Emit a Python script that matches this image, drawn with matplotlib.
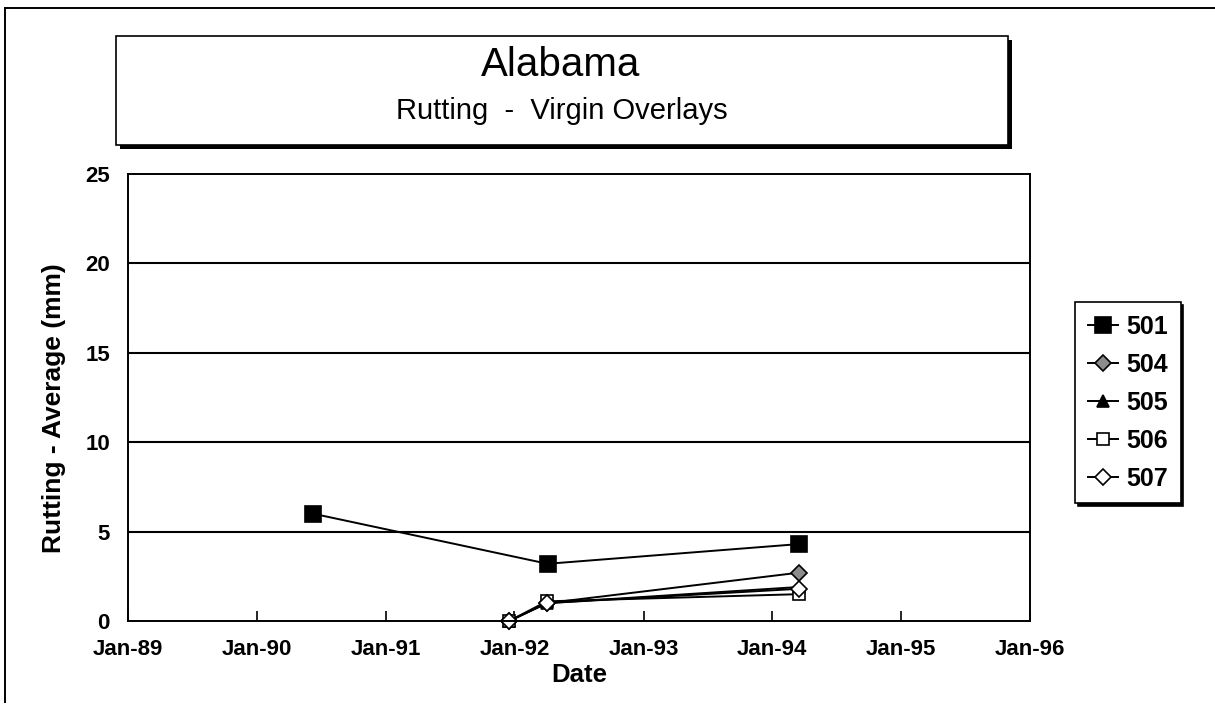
"""Alabama rutting - virgin overlays, average rut depth by survey date."""
import datetime as dt

import matplotlib
matplotlib.use("Agg")
import matplotlib.pyplot as plt
import matplotlib.dates as mdates
from matplotlib.patches import Rectangle
from matplotlib.lines import Line2D

plt.rcParams["font.family"] = ["Liberation Sans", "DejaVu Sans"]

# data
sections = ["501", "504", "505", "506", "507"]
dates_501 = [dt.date(1990, 6, 10), dt.date(1992, 4, 4), dt.date(1994, 3, 16)]
dates_other = [dt.date(1991, 12, 17), dt.date(1992, 4, 2), dt.date(1994, 3, 16)]
rut_501 = [6.0, 3.2, 4.3]
rut_504 = [0.0, 1.0, 2.7]
rut_505 = [0.0, 1.0, 1.9]
rut_506 = [0.0, 1.1, 1.5]
rut_507 = [0.0, 1.0, 1.8]
year_ticks = [dt.date(1989, 1, 1), dt.date(1990, 1, 1), dt.date(1991, 1, 1),
              dt.date(1992, 1, 1), dt.date(1993, 1, 1), dt.date(1994, 1, 1),
              dt.date(1995, 1, 1), dt.date(1996, 1, 1)]
y_ticks = [0, 5, 10, 15, 20, 25]

W, H = 1215, 709
fig = plt.figure(figsize=(W / 100, H / 100), dpi=100)
fig.patch.set_facecolor("white")


def fx(px):
    return px / W


def fy(py):
    return 1 - py / H


# outer page frame (left + top visible)
fig.add_artist(Line2D([fx(5), fx(5)], [fy(8), fy(702)], color="black", lw=1.4))
fig.add_artist(Line2D([fx(5), fx(1215)], [fy(8), fy(8)], color="black", lw=1.4))

# title box with shadow
bx0, by0, bx1, by1 = 116, 36, 1008, 145
fig.add_artist(Rectangle((fx(bx0 + 4), fy(by1 + 4)), fx(bx1 - bx0), (by1 - by0) / H,
                         facecolor="black", edgecolor="none", zorder=1))
fig.add_artist(Rectangle((fx(bx0), fy(by1)), fx(bx1 - bx0), (by1 - by0) / H,
                         facecolor="white", edgecolor="black", lw=1.2, zorder=2))
fig.text(fx(561), fy(65), "Alabama", ha="center", va="center", fontsize=29, zorder=3)
fig.text(fx(562), fy(111), "Rutting  -  Virgin Overlays", ha="center", va="center",
         fontsize=21, zorder=3)

ax = fig.add_axes([fx(128), fy(621), fx(1030 - 128), (621 - 174) / H])

styles = {
    "501": dict(marker="s", ms=12, mfc="black"),
    "504": dict(marker="D", ms=8, mfc="0.55"),
    "505": dict(marker="^", ms=9, mfc="black"),
    "506": dict(marker="s", ms=9, mfc="white"),
    "507": dict(marker="D", ms=8, mfc="white"),
}
series = [(dates_501, rut_501), (dates_other, rut_504), (dates_other, rut_505),
          (dates_other, rut_506), (dates_other, rut_507)]
for name, (xd, yd) in zip(sections, series):
    ax.plot(xd, yd, color="black", lw=1.4, mec="black", mew=1.2,
            label=name, clip_on=False, **styles[name])

ax.set_xlim(year_ticks[0], year_ticks[-1])
ax.set_ylim(0, 25)
ax.set_xticks(year_ticks)
ax.xaxis.set_major_formatter(mdates.DateFormatter("%b-%y"))
ax.set_yticks(y_ticks)
for v in y_ticks[1:-1]:
    ax.axhline(v, color="black", lw=1.5, zorder=0)

ax.tick_params(axis="x", direction="in", length=7, width=1.2, pad=13, labelsize=16)
ax.tick_params(axis="y", length=0, pad=13, labelsize=16)
for lab in ax.get_xticklabels() + ax.get_yticklabels():
    lab.set_fontweight("bold")
for sp in ax.spines.values():
    sp.set_linewidth(1.4)

ax.set_xlabel("Date", fontsize=18.5, fontweight="bold", labelpad=2)
ax.set_ylabel("Rutting - Average (mm)", fontsize=19, fontweight="bold", labelpad=14)
ax.yaxis.label.set_y(0.476)

leg = ax.legend(loc="upper left", bbox_to_anchor=(fx(1075), fy(302)),
                bbox_transform=fig.transFigure, borderaxespad=0,
                frameon=True, fancybox=False, edgecolor="black",
                shadow={"color": "black", "alpha": 1},
                prop={"size": 18, "weight": "bold"}, handlelength=1.2,
                handletextpad=0.35, labelspacing=0.56, borderpad=0.5)
leg.get_frame().set_linewidth(1.2)

fig.savefig("out.png", dpi=100)
